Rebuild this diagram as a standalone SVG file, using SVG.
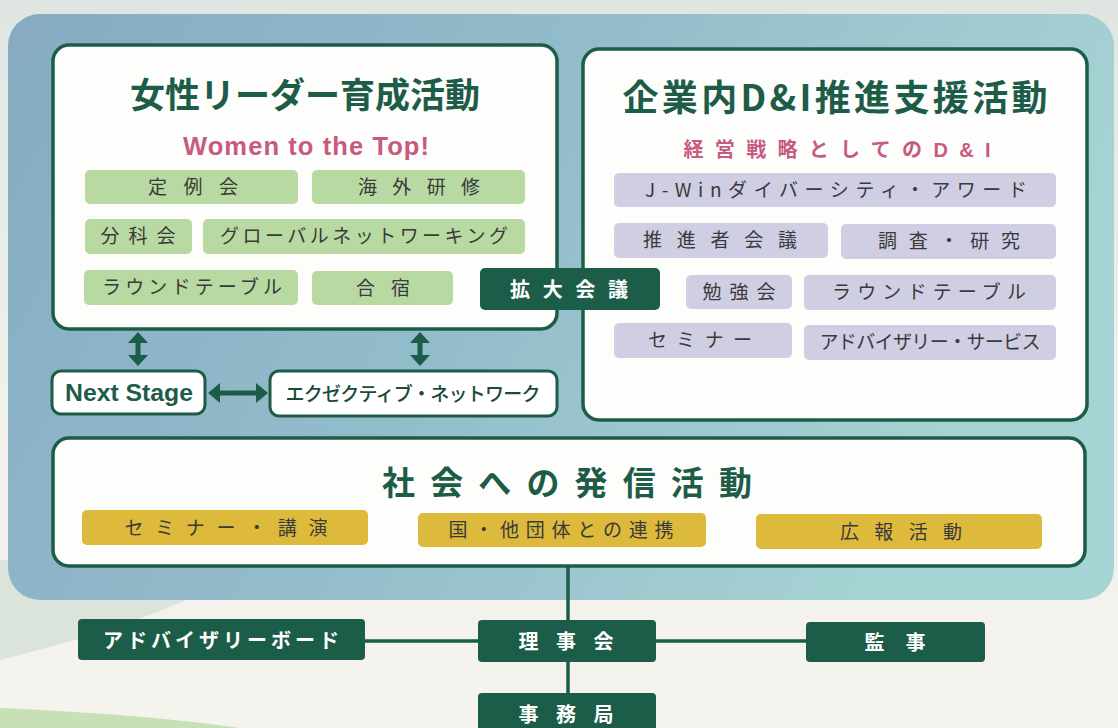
<svg xmlns="http://www.w3.org/2000/svg" width="1118" height="728" viewBox="0 0 1118 728">
<defs>
<linearGradient id="bg" x1="0" y1="0" x2="0" y2="1">
<stop offset="0" stop-color="#dfe6e2"/>
<stop offset="0.5" stop-color="#eef0ea"/>
<stop offset="1" stop-color="#f5f3ee"/>
</linearGradient>
<linearGradient id="panel" x1="0" y1="0" x2="1" y2="0.3">
<stop offset="0" stop-color="#86abc2"/>
<stop offset="0.5" stop-color="#93bccb"/>
<stop offset="1" stop-color="#a6d3d3"/>
</linearGradient>
<style>
.box{fill:#fdfdfb;stroke:#1d5c48;stroke-width:3.5}
.title{font-family:"Noto Sans CJK JP",sans-serif;font-weight:bold;fill:#1d5c48;text-anchor:middle}
.pink{font-family:"Liberation Sans","Noto Sans CJK JP",sans-serif;font-weight:bold;fill:#c75a80;text-anchor:middle}
.g{fill:#b8d9a2}
.v{fill:#d0cee3}
.y{fill:#ddb93c}
.pt{font-family:"Noto Sans CJK JP",sans-serif;font-size:19px;fill:#3a3a3a;text-anchor:middle}
.dk{fill:#1b5d48}
.wt{font-family:"Noto Sans CJK JP",sans-serif;font-weight:bold;font-size:20px;fill:#ffffff;text-anchor:middle}
.ln{stroke:#1d5c48;stroke-width:3.5;fill:none}
.arr{fill:#1d5c48}
.sm{fill:#ffffff;stroke:#1d5c48;stroke-width:3}
</style>
</defs>
<rect width="1118" height="728" fill="url(#bg)"/>
<path d="M0,560 L260,560 C200,600 120,630 0,660 Z" fill="#dbe4da"/>
<path d="M0,708 C90,712 170,718 240,728 L0,728 Z" fill="#c7e0b6"/>
<rect x="8" y="14" width="1106" height="586" rx="32" fill="url(#panel)"/>

<g id="women">
<rect class="box" x="53" y="45" width="504" height="284" rx="16"/>
<text class="title" x="305" y="108" font-size="35">女性リーダー育成活動</text>
<text class="pink" x="306" y="155" font-size="25.5" textLength="246">Women to the Top!</text>
<rect class="g" x="85" y="170" width="213" height="34" rx="5"/>
<text class="pt" x="193" y="194" textLength="90">定例会</text>
<rect class="g" x="312" y="170" width="213" height="34" rx="5"/>
<text class="pt" x="419" y="194" textLength="122">海外研修</text>
<rect class="g" x="85" y="219" width="107" height="35" rx="5"/>
<text class="pt" x="138" y="243" textLength="75">分科会</text>
<rect class="g" x="203" y="219" width="322" height="35" rx="5"/>
<text class="pt" x="364" y="243" textLength="288">グローバルネットワーキング</text>
<rect class="g" x="84" y="270" width="214" height="35" rx="5"/>
<text class="pt" x="192" y="294" textLength="180">ラウンドテーブル</text>
<rect class="g" x="312" y="271" width="141" height="34" rx="5"/>
<text class="pt" x="383" y="295" textLength="54">合宿</text>
</g>

<g id="di">
<rect class="box" x="583" y="49" width="504" height="371" rx="16"/>
<text class="title" x="835" y="111" font-size="36" textLength="425">企業内D&amp;I推進支援活動</text>
<text class="pink" x="837" y="157" font-size="20" textLength="307" font-family="Noto Sans CJK JP, sans-serif">経営戦略としてのD&amp;I</text>
<rect class="v" x="614" y="173" width="442" height="34" rx="5"/>
<text class="pt" x="836" y="197" textLength="382">J-Winダイバーシティ・アワード</text>
<rect class="v" x="614" y="223" width="214" height="35" rx="5"/>
<text class="pt" x="720" y="247" textLength="154">推進者会議</text>
<rect class="v" x="841" y="224" width="215" height="35" rx="5"/>
<text class="pt" x="949" y="248" textLength="142">調査・研究</text>
<rect class="v" x="686" y="275" width="106" height="34" rx="5"/>
<text class="pt" x="739" y="299" textLength="73">勉強会</text>
<rect class="v" x="804" y="275" width="252" height="35" rx="5"/>
<text class="pt" x="929" y="299" textLength="194">ラウンドテーブル</text>
<rect class="v" x="614" y="323" width="178" height="35" rx="5"/>
<text class="pt" x="700" y="347" textLength="104">セミナー</text>
<rect class="v" x="804" y="325" width="252" height="35" rx="5"/>
<text class="pt" x="930" y="349" textLength="221">アドバイザリー・サービス</text>
</g>

<g id="kakudai">
<rect class="dk" x="480" y="268" width="180" height="42" rx="5"/>
<text class="wt" x="569" y="297" font-size="21" textLength="118">拡大会議</text>
</g>

<g id="nextstage">
<rect class="sm" x="52" y="371" width="153" height="43" rx="9"/>
<text x="129" y="401" font-family="Liberation Sans, Arial, sans-serif" font-weight="bold" font-size="23" fill="#1d5c48" text-anchor="middle" textLength="128" lengthAdjust="spacingAndGlyphs">Next Stage</text>
</g>

<g id="exec">
<rect class="sm" x="270" y="371" width="287" height="45" rx="9"/>
<text x="413" y="401" font-family="Noto Sans CJK JP, sans-serif" font-weight="500" font-size="19" fill="#1d4a3c" text-anchor="middle" textLength="255">エクゼクティブ・ネットワーク</text>
</g>

<g id="society">
<rect class="box" x="53" y="438" width="1032" height="128" rx="16"/>
<text class="title" x="567" y="495" font-size="33" textLength="370">社会への発信活動</text>
<rect class="y" x="82" y="510" width="286" height="35" rx="5"/>
<text class="pt" x="226" y="535" textLength="203">セミナー・講演</text>
<rect class="y" x="418" y="513" width="288" height="34" rx="5"/>
<text class="pt" x="561" y="537" textLength="225">国・他団体との連携</text>
<rect class="y" x="756" y="514" width="286" height="35" rx="5"/>
<text class="pt" x="901" y="539" textLength="122">広報活動</text>
</g>

<g id="connectors">
<line class="ln" x1="568" y1="566" x2="568" y2="700"/>
<line class="ln" x1="362" y1="641" x2="808" y2="641"/>
<polygon class="arr" points="138,332 128,343 135.5,343 135.5,355 128,355 138,366 148,355 140.5,355 140.5,343 148,343"/>
<polygon class="arr" points="420,332 410,343 417.5,343 417.5,355 410,355 420,366 430,355 422.5,355 422.5,343 430,343"/>
<polygon class="arr" points="208,393 220,383 220,390.5 256,390.5 256,383 268,393 256,403 256,395.5 220,395.5 220,403"/>
</g>

<g id="advisory">
<rect class="dk" x="78" y="619" width="287" height="41" rx="4"/>
<text class="wt" x="221" y="648" textLength="236">アドバイザリーボード</text>
</g>
<g id="board">
<rect class="dk" x="478" y="620" width="178" height="42" rx="4"/>
<text class="wt" x="566" y="649" textLength="95">理事会</text>
</g>
<g id="auditor">
<rect class="dk" x="806" y="622" width="179" height="40" rx="4"/>
<text class="wt" x="895" y="650" textLength="61">監事</text>
</g>
<g id="secretariat">
<rect class="dk" x="478" y="693" width="178" height="45" rx="4"/>
<text class="wt" x="566" y="722" textLength="95">事務局</text>
</g>
</svg>
